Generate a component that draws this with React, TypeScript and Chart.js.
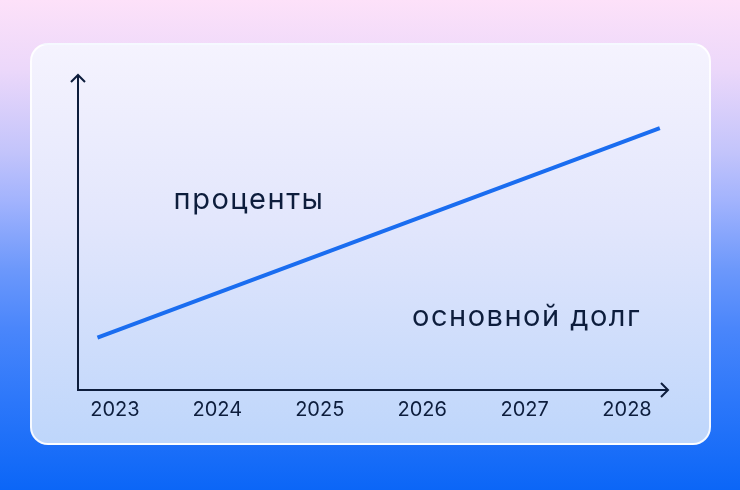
import { useEffect, useRef } from 'react';
import { Chart, registerables } from 'chart.js';
import type { Plugin } from 'chart.js';

Chart.register(...registerables);

// year ticks along the time axis
const years = [2023, 2024, 2025, 2026, 2027, 2028];
// the straight line: two end points (x in years, y on a 0..100 scale)
const lineX = [2022.83, 2028.32];
const lineY = [16.6, 83.1];
// the two captions, anchored in data units
const noteTexts = ['проценты', 'основной долг'];
const noteX = [2024.3, 2027.01];
const noteY = [57.6, 20.4];

const ink = '#0d1d3c';
const lineBlue = '#1a6df0';
const family = 'Inter, "Noto Sans", sans-serif';

const axesPlugin: Plugin<'line'> = {
  id: 'axesArrows',
  afterDraw(chart) {
    const { ctx, chartArea: a, scales } = chart;
    ctx.save();
    ctx.strokeStyle = ink;
    ctx.lineWidth = 2;
    ctx.lineJoin = 'miter';
    ctx.lineCap = 'butt';
    // y axis + arrow
    ctx.beginPath();
    ctx.moveTo(a.left, a.bottom + 1);
    ctx.lineTo(a.left, a.top + 1);
    ctx.stroke();
    ctx.beginPath();
    ctx.moveTo(a.left - 7, a.top + 7);
    ctx.lineTo(a.left, a.top);
    ctx.lineTo(a.left + 7, a.top + 7);
    ctx.stroke();
    // x axis + arrow
    ctx.beginPath();
    ctx.moveTo(a.left - 1, a.bottom);
    ctx.lineTo(a.right - 1, a.bottom);
    ctx.stroke();
    ctx.beginPath();
    ctx.moveTo(a.right - 7, a.bottom - 7);
    ctx.lineTo(a.right, a.bottom);
    ctx.lineTo(a.right - 7, a.bottom + 7);
    ctx.stroke();

    // captions
    ctx.fillStyle = ink;
    ctx.font = `400 29px ${family}`;
    (ctx as any).letterSpacing = '1.5px';
    ctx.textAlign = 'center';
    ctx.textBaseline = 'alphabetic';
    noteTexts.forEach((t, i) => {
      ctx.fillText(t, scales.x.getPixelForValue(noteX[i]) + 1, scales.y.getPixelForValue(noteY[i]));
    });
    ctx.restore();
  },
};

export default function App() {
  const ref = useRef<HTMLCanvasElement>(null);

  useEffect(() => {
    if (!ref.current) return;
    const chart = new Chart(ref.current, {
      type: 'line',
      data: {
        datasets: [{
          data: lineX.map((x, i) => ({ x, y: lineY[i] })),
          borderColor: lineBlue,
          borderWidth: 4,
          borderCapStyle: 'butt',
          pointRadius: 0,
          tension: 0,
          clip: false,
        }],
      },
      options: {
        responsive: false,
        animation: false,
        layout: { padding: { left: 78, right: 72, top: 75, bottom: 60 } },
        plugins: { legend: { display: false }, tooltip: { enabled: false } },
        scales: {
          x: {
            type: 'linear',
            min: 2022.64,
            max: 2028.4,
            afterBuildTicks: (s) => { s.ticks = years.map((value) => ({ value })); },
            grid: { display: false, drawTicks: false },
            border: { display: false },
            ticks: {
              color: ink,
              font: { size: 20, family },
              padding: 8,
              autoSkip: false,
              maxRotation: 0,
              callback: (v) => String(v),
            },
          },
          y: { display: false, min: 0, max: 100 },
        },
      },
      plugins: [axesPlugin],
    });
    return () => chart.destroy();
  }, []);

  return (
    <div style={{
      position: 'fixed', left: 0, top: 0, width: 740, height: 490, overflow: 'hidden',
      background: 'linear-gradient(180deg, #fde1f9 0%, #ecd8fa 14%, #c3c4fb 31%, #a2b3fd 41%, #6c98fb 55%, #4a86fb 67%, #2c77fa 82%, #0b66f7 100%)',
    }}>
      <div style={{
        position: 'absolute', left: 30, top: 43, width: 681, height: 402, boxSizing: 'border-box',
        borderRadius: 18, border: '2px solid rgba(255,255,255,0.85)',
        background: 'linear-gradient(180deg, #f5f3fe 0%, #e2e6fc 45%, #bed6fb 100%)',
      }} />
      <canvas ref={ref} width={740} height={490}
        style={{ position: 'absolute', left: 0, top: 0, width: 740, height: 490 }} />
    </div>
  );
}
